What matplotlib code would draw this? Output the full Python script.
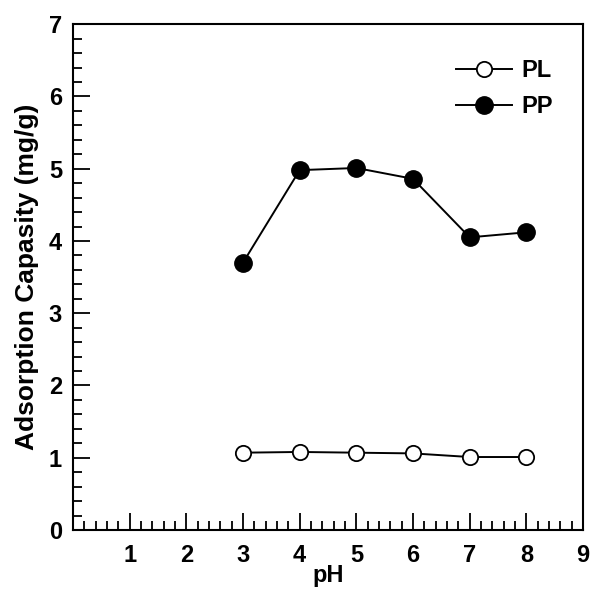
import numpy as np
import matplotlib.pyplot as plt
from matplotlib.ticker import MultipleLocator

plt.rcParams['font.family'] = ['Liberation Sans', 'DejaVu Sans']
plt.rcParams['font.weight'] = 'bold'

# data
ph = [3, 4, 5, 6, 7, 8]
pl = [1.07, 1.08, 1.07, 1.06, 1.01, 1.01]
pp = [3.70, 4.98, 5.01, 4.86, 4.05, 4.12]
xticks = [1, 2, 3, 4, 5, 6, 7, 8, 9]
yticks = [0, 1, 2, 3, 4, 5, 6, 7]

fig = plt.figure(figsize=(5.91, 5.90), dpi=100)
ax = fig.add_axes([0.1235, 0.1017, 0.863, 0.8573])

ax.plot(ph, pl, '-o', color='black', mfc='white', mec='black', ms=11, mew=1.3, lw=1.4, label='PL')
ax.plot(ph, pp, '-o', color='black', ms=12.5, lw=1.4, label='PP')

ax.set_xlim(0, 9)
ax.set_ylim(0, 7)
ax.set_xticks(xticks)
ax.set_yticks(yticks)
ax.xaxis.set_minor_locator(MultipleLocator(0.2))
ax.yaxis.set_minor_locator(MultipleLocator(0.2))
ax.tick_params(which='both', direction='in', top=False, right=False, width=1.3)
ax.tick_params(which='major', length=12, labelsize=17)
ax.tick_params(axis='x', which='major', pad=10)
ax.tick_params(axis='y', which='major', pad=8)
ax.tick_params(which='minor', length=6.5)
for s in ax.spines.values():
    s.set_linewidth(1.5)

ax.set_xlabel('pH', fontsize=17, fontweight='bold', labelpad=-2)
ax.set_ylabel('Adsorption Capasity (mg/g)', fontsize=19, fontweight='bold', labelpad=7)

ax.legend(loc='upper right', frameon=False, fontsize=17, handlelength=2.4,
          handletextpad=0.4, borderaxespad=0, labelspacing=0.55,
          bbox_to_anchor=(0.96, 0.95))

fig.savefig('out.png', dpi=100)
